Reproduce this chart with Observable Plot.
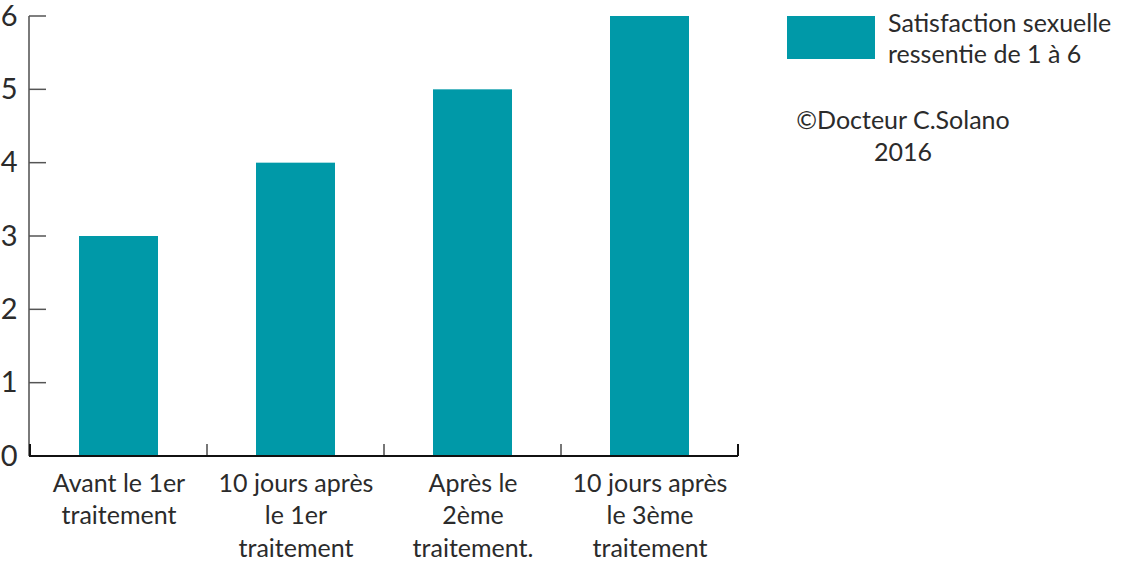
<!DOCTYPE html>
<html><head><meta charset="utf-8">
<script src="https://cdn.jsdelivr.net/npm/d3@7"></script>
<script src="https://cdn.jsdelivr.net/npm/@observablehq/plot@0.6"></script>
<style>
body{margin:0;background:#fff;font-family:Lato,"Open Sans",sans-serif;}
#wrap{position:relative;width:1122px;height:563px;overflow:hidden;}
#wrap svg{overflow:visible;}
#legend{position:absolute;left:787px;top:16px;display:flex;align-items:flex-start;}
#legend .sw{width:88px;height:43px;}
#legend .lab{margin-left:13px;margin-top:-9px;font-size:25px;line-height:31px;color:#2b2b2b;white-space:pre;}
#credit{position:absolute;left:783px;top:103px;width:240px;text-align:center;font-size:25px;line-height:32px;color:#2b2b2b;}
</style></head><body><div id="wrap"></div>
<script>
const categories = ["Avant le 1er\ntraitement", "10 jours après\nle 1er\ntraitement", "Après le\n2ème\ntraitement.", "10 jours après\nle 3ème\ntraitement"];
const values = [3, 4, 5, 6];
const yTicks = [0, 1, 2, 3, 4, 5, 6];
const seriesName = "Satisfaction sexuelle\nressentie de 1 à 6";
const credit = ["©Docteur C.Solano", "2016"];
const barColor = "#0099a8";

const data = categories.map((c, i) => ({cat: c, value: values[i]}));

const chart = Plot.plot({
  width: 1122, height: 563,
  marginLeft: 29, marginRight: 384, marginTop: 16, marginBottom: 107,
  style: {fontFamily: "Lato, 'Open Sans', sans-serif", background: "transparent", color: "#2b2b2b", overflow: "visible"},
  x: {domain: categories, padding: 0, label: null},
  y: {domain: [0, 6], label: null},
  marks: [
    Plot.barY(data, {x: "cat", y: "value", fill: barColor, insetLeft: 49, insetRight: 49}),
    Plot.axisY({ticks: yTicks, tickFormat: d => String(d), tickSize: 0, tickPadding: 12, fontSize: 29, fill: "#2b2b2b", label: null}),
    Plot.axisX({tickSize: 0, tickPadding: 12, fontSize: 25, lineHeight: 1.3, fill: "#2b2b2b", label: null})
  ]
});

document.getElementById("wrap").appendChild(chart);

// axis lines and ticks drawn from Plot's own scales
const xs = chart.scale("x");
const ys = chart.scale("y");
const svg = d3.select(chart);
const x0 = xs.range[0], x1 = xs.range[1];
const yBase = ys.apply(0);
const g = svg.append("g");
g.append("line").attr("x1", x0).attr("x2", x0).attr("y1", ys.apply(6)).attr("y2", yBase)
  .attr("stroke", "#7a7a7a").attr("stroke-width", 2);
yTicks.filter(v => v > 0).forEach(v => {
  g.append("line").attr("x1", x0).attr("x2", x0 + 17).attr("y1", ys.apply(v)).attr("y2", ys.apply(v))
    .attr("stroke", "#555").attr("stroke-width", 1.5);
});
const bounds = categories.map(c => xs.apply(c)).concat([xs.apply(categories[categories.length - 1]) + xs.bandwidth]);
bounds.forEach((bx, i) => {
  g.append("line").attr("x1", bx).attr("x2", bx).attr("y1", yBase).attr("y2", yBase - 12)
    .attr("stroke", (i === 0 || i === bounds.length - 1) ? "#111" : "#777").attr("stroke-width", 2);
});
g.append("line").attr("x1", x0).attr("x2", x1).attr("y1", yBase).attr("y2", yBase)
  .attr("stroke", "#111").attr("stroke-width", 2);

const wrap = document.getElementById("wrap");
const leg = document.createElement("div");
leg.id = "legend";
leg.innerHTML = `<div class="sw" style="background:${barColor}"></div><div class="lab"></div>`;
leg.querySelector(".lab").textContent = seriesName;
wrap.appendChild(leg);
const cr = document.createElement("div");
cr.id = "credit";
cr.innerHTML = credit.map(t => `<div>${t}</div>`).join("");
wrap.appendChild(cr);
</script>
</body></html>
